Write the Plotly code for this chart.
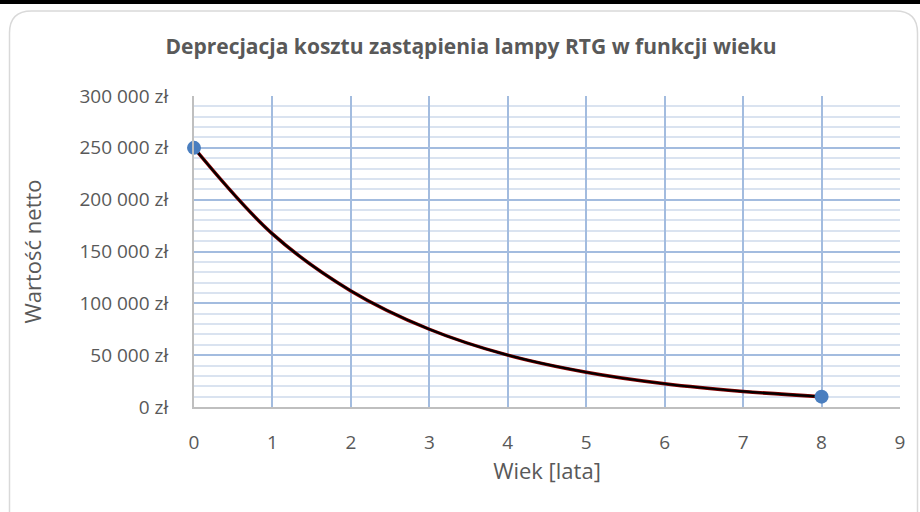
import plotly.graph_objects as go

# Data
age_years = [0, 1, 2, 3, 4, 5, 6, 7, 8]
net_value = [250000, 167000, 112000, 75000, 50000, 33500, 22400, 15000, 10000]
marker_x = [0, 8]
marker_y = [250000, 10000]
y_tick_vals = [0, 50000, 100000, 150000, 200000, 250000, 300000]
y_tick_text = ["0 zł", "50 000 zł", "100 000 zł", "150 000 zł", "200 000 zł", "250 000 zł", "300 000 zł"]
x_tick_vals = [0, 1, 2, 3, 4, 5, 6, 7, 8, 9]

W, H = 920, 512
L, R, T, B = 194, 20, 96, 105
pw, ph = W - L - R, H - T - B

def px(x):
    return (x - L) / pw

def py(y):
    return (H - B - y) / ph

TXT = "#595959"
FONT = "Open Sans"

fig = go.Figure()
fig.add_trace(go.Scatter(x=age_years, y=net_value, mode="lines",
                         line=dict(color="#8b0000", width=3.5, shape="spline"),
                         hoverinfo="skip", showlegend=False))
fig.add_trace(go.Scatter(x=age_years, y=net_value, mode="lines",
                         line=dict(color="#000000", width=2.2, shape="spline"),
                         showlegend=False))
fig.add_trace(go.Scatter(x=marker_x, y=marker_y, mode="markers",
                         marker=dict(color="#4a7ebf", size=14),
                         showlegend=False, cliponaxis=False))

# card outline with rounded corners
x0, x1, y0, y1, r = 9.5, 917.5, 11, 512 + 30, 22
path = (f"M {px(x0)},{py(y0 + r)} "
        f"Q {px(x0)},{py(y0)} {px(x0 + r)},{py(y0)} "
        f"L {px(x1 - r)},{py(y0)} "
        f"Q {px(x1)},{py(y0)} {px(x1)},{py(y0 + r)} "
        f"L {px(x1)},{py(y1 - r)} "
        f"Q {px(x1)},{py(y1)} {px(x1 - r)},{py(y1)} "
        f"L {px(x0 + r)},{py(y1)} "
        f"Q {px(x0)},{py(y1)} {px(x0)},{py(y1 - r)} Z")

fig.update_layout(
    width=W, height=H,
    margin=dict(l=L, r=R, t=T, b=B),
    paper_bgcolor="white", plot_bgcolor="rgba(0,0,0,0)",
    font=dict(family=FONT, color=TXT),
    title=dict(text="<b>Deprecjacja kosztu zastąpienia lampy RTG w funkcji wieku</b>",
               x=471 / W, xanchor="center", y=1 - 47 / H, yanchor="middle",
               font=dict(size=21, color=TXT, family=FONT)),
    xaxis=dict(range=[0, 9], tickvals=x_tick_vals, showgrid=True,
               gridcolor="#a3bcdf", gridwidth=1.5, zeroline=False,
               showline=True, linecolor="#bfbfbf", linewidth=2,
               ticks="", ticklabelstandoff=17,
               tickfont=dict(size=19, color=TXT),
               title=dict(text="Wiek [lata]", font=dict(size=22, color=TXT), standoff=2)),
    yaxis=dict(range=[0, 300000], tickvals=y_tick_vals, ticktext=y_tick_text,
               showgrid=True, gridcolor="#a3bcdf", gridwidth=1.5, zeroline=False,
               showline=True, linecolor="#bfbfbf", linewidth=2,
               ticks="", ticklabelstandoff=20,
               tickfont=dict(size=19, color=TXT),
               minor=dict(dtick=10000, showgrid=True, gridcolor="#dae3f0", gridwidth=1.5),
               title=dict(text="Wartość netto", font=dict(size=22, color=TXT), standoff=32)),
    shapes=[
        dict(type="path", path=path, xref="paper", yref="paper",
             line=dict(color="#d9d9d9", width=1.5), fillcolor="rgba(0,0,0,0)", layer="below"),
        dict(type="rect", xref="paper", yref="paper", x0=px(0), x1=px(W), y0=py(0), y1=py(4),
             fillcolor="black", line=dict(width=0), layer="above"),
    ],
)

fig.write_html("out.html", config={"displayModeBar": False},
               post_script="document.body.style.margin='0';document.body.style.overflow='hidden';")
